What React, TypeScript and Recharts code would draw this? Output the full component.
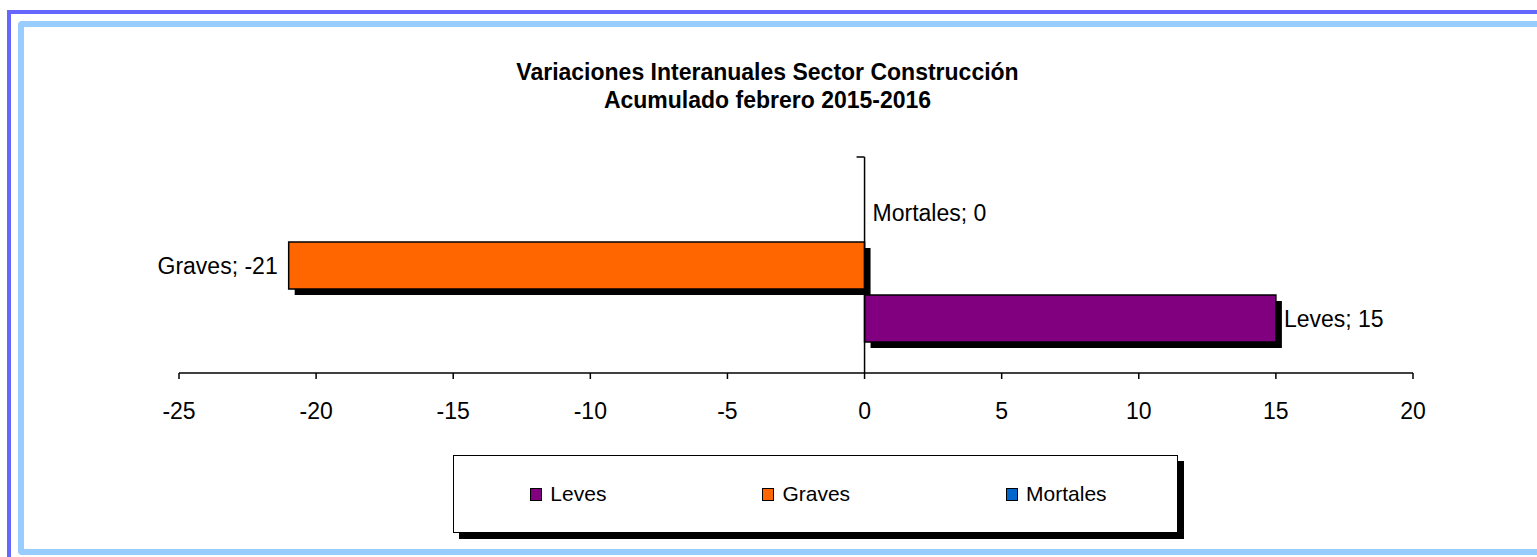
import React from 'react';
import { BarChart, Bar, XAxis, YAxis, ReferenceLine, LabelList } from 'recharts';

// datos del gráfico
const category = 'Acumulado febrero 2015-2016';
const seriesNames = ['Leves', 'Graves', 'Mortales'];
const seriesValues = [15, -21, 0];
const seriesColors = ['#800080', '#FF6600', '#0066CC'];
const xTicks = [-25, -20, -15, -10, -5, 0, 5, 10, 15, 20];
const titleLines = ['Variaciones Interanuales Sector Construcción', 'Acumulado febrero 2015-2016'];

const FONT = '"Liberation Sans", Arial, sans-serif';

const row: Record<string, string | number> = { name: category };
seriesNames.forEach((s, i) => {
  row[s] = seriesValues[i];
});
const data = [row];

// barra con sombra negra, como en Excel
const ShadowBar = (props: any) => {
  const { x, y, width, height, fill } = props;
  if (!width || Math.abs(width) < 0.5) return null;
  const x0 = Math.min(x, x + width);
  const w = Math.abs(width);
  return (
    <g>
      <rect x={x0 + 6} y={y + 6} width={w} height={height} fill="#000" />
      <rect x={x0} y={y} width={w} height={height} fill={fill} stroke="#000" strokeWidth={1.5} />
    </g>
  );
};

const makeLabel = (name: string) => (props: any) => {
  const { x, y, width, height, value } = props;
  const v = Number(value);
  const end = x + width;
  const neg = v < 0;
  return (
    <text
      x={neg ? end - 11 : end + 8}
      y={y + height / 2}
      textAnchor={neg ? 'end' : 'start'}
      dominantBaseline="central"
      fontSize={23}
      fontFamily={FONT}
      fill="#000"
    >
      {`${name}; ${v}`}
    </text>
  );
};

const AxisZero = (props: any) => {
  const { x1, y1, x2, y2 } = props;
  return (
    <g stroke="#000" strokeWidth={1.5}>
      <line x1={x1} y1={y1} x2={x2} y2={y2} />
      <line x1={x1 - 8} y1={Math.min(y1, y2)} x2={x1} y2={Math.min(y1, y2)} />
    </g>
  );
};

const App: React.FC = () => {
  const order = [2, 1, 0]; // de arriba a abajo: Mortales, Graves, Leves
  return (
    <div
      style={{
        position: 'absolute',
        left: 0,
        top: 0,
        width: 1537,
        height: 557,
        overflow: 'hidden',
        background: '#fff',
        fontFamily: FONT,
      }}
    >
      <div
        style={{
          position: 'absolute',
          left: 7,
          top: 10,
          width: 1600,
          height: 600,
          border: '4px solid #6666FF',
        }}
      />
      <div
        style={{
          position: 'absolute',
          left: 18,
          top: 21,
          width: 1600,
          height: 522,
          border: '6px solid #99CCFF',
          borderRadius: 4,
        }}
      />
      <div
        style={{
          position: 'absolute',
          left: 0,
          top: 58,
          width: 1535,
          textAlign: 'center',
          fontWeight: 'bold',
          fontSize: 23,
          lineHeight: '28px',
          color: '#000',
        }}
      >
        {titleLines.map((t) => (
          <div key={t}>{t}</div>
        ))}
      </div>
      <div style={{ position: 'absolute', left: 0, top: 0 }}>
        <BarChart
          width={1537}
          height={557}
          data={data}
          layout="vertical"
          margin={{ top: 157, right: 124, bottom: 124, left: 179 }}
          barSize={47}
          barGap={6}
        >
          <XAxis
            type="number"
            domain={[-25, 20]}
            ticks={xTicks}
            height={60}
            axisLine={{ stroke: '#000', strokeWidth: 1.5 }}
            tickLine={{ stroke: '#000', strokeWidth: 1.5 }}
            tickSize={6}
            tickMargin={24}
            tick={{ fill: '#000', fontSize: 23, fontFamily: FONT }}
            interval={0}
          />
          <YAxis type="category" dataKey="name" hide />
          {order.map((i) => (
            <Bar
              key={seriesNames[i]}
              dataKey={seriesNames[i]}
              fill={seriesColors[i]}
              shape={ShadowBar}
              isAnimationActive={false}
            >
              <LabelList dataKey={seriesNames[i]} content={makeLabel(seriesNames[i])} />
            </Bar>
          ))}
          <ReferenceLine x={0} shape={AxisZero} />
        </BarChart>
      </div>
      <div
        style={{
          position: 'absolute',
          left: 453,
          top: 455,
          width: 717,
          height: 76,
          border: '1.5px solid #000',
          boxShadow: '6px 6px 0 #000',
          background: '#fff',
          display: 'flex',
          alignItems: 'center',
          justifyContent: 'center',
          gap: 156,
          paddingLeft: 6,
          boxSizing: 'content-box',
        }}
      >
        {seriesNames.map((s, i) => (
          <div key={s} style={{ display: 'flex', alignItems: 'center' }}>
            <span
              style={{
                display: 'inline-block',
                width: 10,
                height: 11,
                background: seriesColors[i],
                border: '1.5px solid #000',
                marginRight: 8,
              }}
            />
            <span style={{ fontSize: 21, color: '#000' }}>{s}</span>
          </div>
        ))}
      </div>
    </div>
  );
};

export default App;
